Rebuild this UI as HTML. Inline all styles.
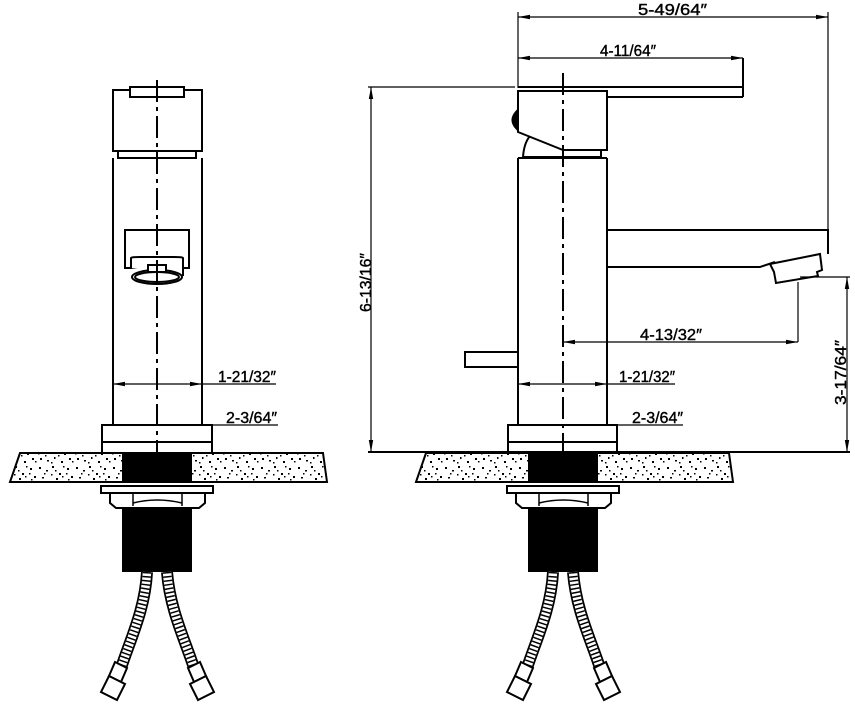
<!DOCTYPE html>
<html><head><meta charset="utf-8"><style>
html,body{margin:0;padding:0;background:#fff;}
svg{display:block;}
text{font-family:"Liberation Sans",sans-serif;font-size:16px;fill:#000;stroke:#000;stroke-width:0.4;}
</style></head><body>
<svg width="855" height="708" viewBox="0 0 855 708" xmlns="http://www.w3.org/2000/svg">
<defs>
<pattern id="sp" width="37" height="29" patternUnits="userSpaceOnUse">
<rect width="37" height="29" fill="#fff"/>
<g fill="#000">
<rect x="2" y="3" width="2" height="2"/><rect x="9" y="6" width="2" height="1.5"/><rect x="15" y="2" width="2" height="2"/>
<rect x="22" y="9" width="2" height="2"/><rect x="30" y="4" width="2" height="2"/><rect x="5" y="13" width="2" height="1.5"/>
<rect x="12" y="17" width="2" height="2"/><rect x="19" y="14" width="2" height="2"/><rect x="27" y="18" width="2" height="2"/>
<rect x="34" y="12" width="2" height="2"/><rect x="3" y="23" width="2" height="2"/><rect x="10" y="25" width="2" height="1.5"/>
<rect x="17" y="22" width="1.5" height="2"/><rect x="24" y="26" width="2" height="2"/><rect x="32" y="23" width="2" height="2"/>
<rect x="7" y="9" width="1.5" height="1.5"/><rect x="26" y="2" width="1.5" height="1.5"/><rect x="14" y="10" width="1.5" height="1.5"/>
<rect x="31" y="15" width="1.5" height="1.5"/><rect x="21" y="20" width="1.5" height="1.5"/><rect x="1" y="18" width="1.5" height="1.5"/>
<rect x="25" y="12" width="1.5" height="1.5"/><rect x="35" y="26" width="1.5" height="1.5"/><rect x="8" y="20" width="1.5" height="1.5"/>
<rect x="18" y="6" width="1.5" height="1.5"/><rect x="29" y="9" width="1.5" height="1.5"/><rect x="14" y="27" width="1.5" height="1.5"/>
</g>
</pattern>
<g id="under">
<path d="M20,453 L323,453 L327,482 L10,482 Z" fill="url(#sp)" stroke="#000" stroke-width="2"/>
<rect x="122" y="453" width="70" height="29" fill="#000"/>
<rect x="101" y="486" width="112" height="7" fill="#fff" stroke="#000" stroke-width="2"/>
<path d="M110,493 L205,493 L205,503 L199,508 L116,508 L110,503 Z" fill="#fff" stroke="#000" stroke-width="2"/>
<path d="M133,493 L133,506 M182,493 L182,506 M133,503 Q157,497 182,503" fill="none" stroke="#000" stroke-width="1.5"/>
<rect x="122" y="508" width="70" height="64" fill="#000"/>
<g fill="none" stroke-linecap="butt">
<path d="M147,572 C145,610 130,640 121,668" stroke="#000" stroke-width="12"/>
<path d="M147,572 C145,610 130,640 121,668" stroke="#fff" stroke-width="8.5"/>
<path d="M147,572 C145,610 130,640 121,668" stroke="#000" stroke-width="8.5" stroke-dasharray="1.5 2.5"/>
<path d="M167,572 C170,610 185,640 194,668" stroke="#000" stroke-width="12"/>
<path d="M167,572 C170,610 185,640 194,668" stroke="#fff" stroke-width="8.5"/>
<path d="M167,572 C170,610 185,640 194,668" stroke="#000" stroke-width="8.5" stroke-dasharray="1.5 2.5"/>
</g>
<g fill="#fff" stroke="#000" stroke-width="2">
<path d="M115,662 L127,668 L121,682 L109,676 Z"/>
<path d="M109,676 L125,684 L117,700 L101,692 Z"/>
<path d="M200,662 L188,668 L194,682 L206,676 Z"/>
<path d="M206,676 L190,684 L198,700 L214,692 Z"/>
</g>
</g>
<marker id="ar" viewBox="0 0 12 6" refX="12" refY="3" markerWidth="12" markerHeight="6" orient="auto-start-reverse" markerUnits="userSpaceOnUse">
<path d="M0,0.8 L12,3 L0,5.2 Z" fill="#000"/>
</marker>
</defs>

<g stroke="#000" stroke-width="2" fill="none">
<!-- LEFT VIEW -->
<rect x="113" y="90" width="89" height="61"/>
<rect x="130" y="87" width="54" height="10" fill="#fff"/>
<rect x="118" y="151" width="78" height="7"/>
<path d="M113,158 L113,425 M202,158 L202,425"/>
<rect x="125" y="230" width="64" height="38"/>
<path d="M131,268 L131,258 Q131,257 140,257 L174,257 Q183,257 183,258 L183,276" fill="#fff"/>
<ellipse cx="157" cy="277" rx="25" ry="7" fill="#fff"/>
<ellipse cx="157" cy="277" rx="22" ry="5"/>
<rect x="148" y="265" width="18" height="7" fill="#fff"/>
<rect x="102" y="425" width="110" height="28"/>
<path d="M102,442 L212,442"/>
<path d="M157,80 L157,453" stroke-dasharray="22 5 4 5"/>
<path d="M113,384 L202,384" marker-start="url(#ar)" marker-end="url(#ar)" stroke-width="1.2"/>
<path d="M202,384 L276,384" stroke-width="1.2"/>
<path d="M102,425 L212,425" stroke-width="1.2"/>
<path d="M212,425 L278,425" stroke-width="1.2"/>

<!-- RIGHT VIEW -->
<path d="M518,17 L828,17" marker-start="url(#ar)" marker-end="url(#ar)" stroke-width="1.2"/>
<path d="M518,12 L518,88 M828,12 L828,230" stroke-width="1.2"/>
<path d="M518,58 L743,58" marker-start="url(#ar)" marker-end="url(#ar)" stroke-width="1.2"/>
<path d="M743,58 L743,97 M518,87 L743,87 M607,97 L743,97"/>
<path d="M368,87 L515,87" stroke-width="1.2"/>
<path d="M371,87 L371,452" marker-start="url(#ar)" marker-end="url(#ar)" stroke-width="1.2"/>
<path d="M368,452 L850,452" stroke-width="2"/>
<path d="M518,91 L607,91 L607,150 L563,150 L518,132 Z"/>
<path d="M516,112 Q509,120 516,128 Z" fill="#000"/>
<path d="M523,157 Q524,143 530,136 M601,150 L601,157 M523,157 L601,157"/>
<path d="M518,158 L607,158 M518,158 L518,425 M607,158 L607,425"/>
<rect x="465" y="352" width="53" height="15"/>
<path d="M607,230 L828,230 L828,254 M607,267 L760,267 L775,262"/>
<path d="M770,264 L820,254 L822,270 L817,272 L818,276 L776,283 L774,272 Z" fill="#fff"/>
<rect x="508" y="425" width="109" height="27"/>
<path d="M508,442 L617,442"/>
<path d="M563,73 L563,453" stroke-dasharray="22 5 4 5"/>
<path d="M563,342 L798,342" marker-start="url(#ar)" marker-end="url(#ar)" stroke-width="1.2"/>
<path d="M798,282 L798,342" stroke-width="1.2"/>
<path d="M800,277 L850,277" stroke-width="1.2"/>
<path d="M847,277 L847,452" marker-start="url(#ar)" marker-end="url(#ar)" stroke-width="1.2"/>
<path d="M518,384 L607,384" marker-start="url(#ar)" marker-end="url(#ar)" stroke-width="1.2"/>
<path d="M607,384 L675,384" stroke-width="1.2"/>
<path d="M508,425 L617,425 L683,425" stroke-width="1.2"/>
</g>

<use href="#under"/>
<use href="#under" transform="translate(406,0)"/>
<path d="M157,453 L157,460 M563,453 L563,460" stroke="#000" stroke-width="2"/>

<text x="638" y="15" textLength="69" lengthAdjust="spacingAndGlyphs">5-49/64″</text>
<text x="600" y="56" textLength="56" lengthAdjust="spacingAndGlyphs">4-11/64″</text>
<text x="640" y="340" textLength="62" lengthAdjust="spacingAndGlyphs">4-13/32″</text>
<text x="619" y="382" textLength="56" lengthAdjust="spacingAndGlyphs">1-21/32″</text>
<text x="632" y="423" textLength="51" lengthAdjust="spacingAndGlyphs">2-3/64″</text>
<text x="218" y="382" textLength="58" lengthAdjust="spacingAndGlyphs">1-21/32″</text>
<text x="226" y="423" textLength="51" lengthAdjust="spacingAndGlyphs">2-3/64″</text>
<text transform="translate(371,312) rotate(-90)" textLength="59" lengthAdjust="spacingAndGlyphs">6-13/16″</text>
<text transform="translate(846,405) rotate(-90)" textLength="65" lengthAdjust="spacingAndGlyphs">3-17/64″</text>
</svg>
</body></html>
